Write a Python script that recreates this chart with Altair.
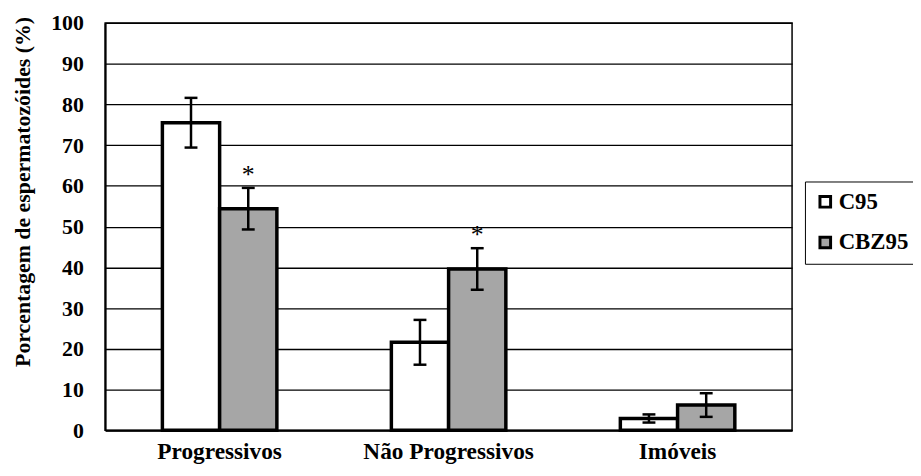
import altair as alt
import pandas as pd

categories = ["Progressivos", "Não Progressivos", "Imóveis"]
groups = ["C95", "CBZ95"]
c95_mean = [75.5, 21.6, 2.9]
c95_err = [6.1, 5.5, 1.0]
cbz_mean = [54.4, 39.6, 6.2]
cbz_err = [5.1, 5.1, 2.9]
cbz_sig = ["*", "*", ""]
y_ticks = [0, 10, 20, 30, 40, 50, 60, 70, 80, 90, 100]

rows = []
for i, c in enumerate(categories):
    rows.append({"cat": c, "group": "C95", "mean": c95_mean[i],
                 "lo": c95_mean[i] - c95_err[i], "hi": c95_mean[i] + c95_err[i], "sig": ""})
    rows.append({"cat": c, "group": "CBZ95", "mean": cbz_mean[i],
                 "lo": cbz_mean[i] - cbz_err[i], "hi": cbz_mean[i] + cbz_err[i], "sig": cbz_sig[i]})
df = pd.DataFrame(rows)

FONT = "Liberation Serif"

x_enc = alt.X("cat:N", sort=categories,
              scale=alt.Scale(paddingInner=0.5, paddingOuter=0.25),
              axis=alt.Axis(title=None, labelAngle=0, ticks=False, tickSize=0,
                            labelFont=FONT, labelFontSize=23.5, labelFontWeight="bold",
                            labelColor="black", labelPadding=9,
                            domainColor="black", domainWidth=2))
xo_enc = alt.XOffset("group:N", sort=groups, scale=alt.Scale(paddingInner=0, paddingOuter=0))
y_scale = alt.Scale(domain=[0, 100], nice=False)

base = alt.Chart(df).encode(x=x_enc, xOffset=xo_enc)

bars = base.mark_bar(stroke="black", strokeWidth=3.5).encode(
    y=alt.Y("mean:Q", scale=y_scale,
            axis=alt.Axis(values=y_ticks, title="Porcentagem de espermatozóides (%)",
                          grid=True, gridColor="black", gridWidth=1.3, gridOpacity=1,
                          ticks=False, tickSize=0, labelPadding=22,
                          labelFont=FONT, labelFontSize=22, labelFontWeight="bold",
                          labelColor="black",
                          titleFont=FONT, titleFontSize=22, titleFontWeight="bold",
                          titleColor="black", titleAngle=270, titleAlign="center",
                          titleBaseline="middle", titleX=-83, titleY=170,
                          domainColor="black", domainWidth=2)),
    color=alt.Color("group:N", sort=groups,
                    scale=alt.Scale(domain=groups, range=["#ffffff", "#a6a6a6"]),
                    legend=alt.Legend(title=None, orient="none", legendX=706, legendY=160,
                                      symbolType="square", symbolSize=115,
                                      symbolStrokeColor="black", symbolStrokeWidth=3,
                                      labelFont=FONT, labelFontSize=23, labelFontWeight="bold",
                                      labelColor="black", labelOffset=2, rowPadding=17,
                                      padding=9, strokeColor="black", fillColor="white")),
)

err = base.mark_rule(color="black", strokeWidth=2.5).encode(
    y=alt.Y("lo:Q", scale=y_scale), y2="hi:Q")
cap_hi = base.mark_tick(color="black", thickness=2.5, size=13, opacity=1).encode(
    y=alt.Y("hi:Q", scale=y_scale))
cap_lo = base.mark_tick(color="black", thickness=2.5, size=13, opacity=1).encode(
    y=alt.Y("lo:Q", scale=y_scale))
stars = base.mark_text(font=FONT, fontSize=26, color="black", baseline="alphabetic", dy=-5).encode(
    y=alt.Y("hi:Q", scale=y_scale), text="sig:N")

chart = alt.layer(bars, err, cap_hi, cap_lo, stars).properties(
    width=693, height=411,
    padding={"left": 98, "top": 13, "right": 122, "bottom": 36},
    autosize=alt.AutoSizeParams(type="none"),
).configure_view(stroke="black", strokeWidth=1.5)

chart.save("out.html", embed_options={"renderer": "svg", "actions": False})
